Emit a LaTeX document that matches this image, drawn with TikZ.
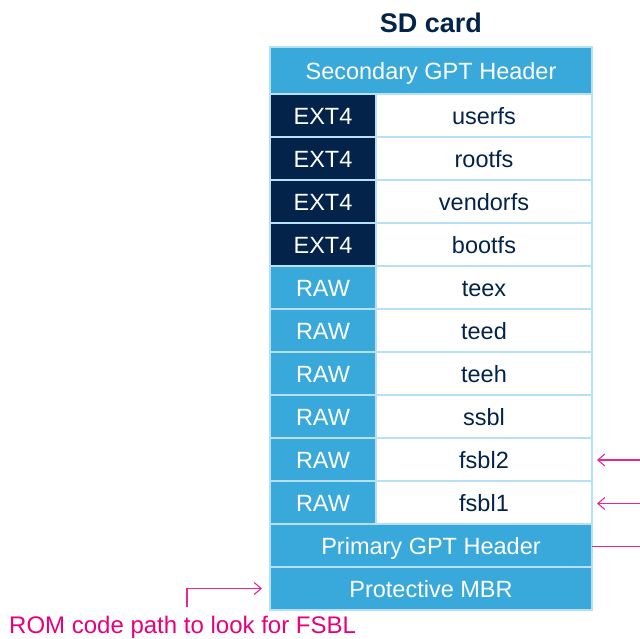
\documentclass[tikz,border=0pt]{standalone}
\usepackage{fontspec}
\setmainfont{Liberation Sans}
\usetikzlibrary{arrows.meta}
\definecolor{stblue}{HTML}{39A9DC}
\definecolor{stnavy}{HTML}{03234B}
\definecolor{stpink}{HTML}{E6007E}
\definecolor{sepcol}{HTML}{B8E0F4}
\tikzset{
  cell/.style={draw=sepcol, line width=1.5pt, inner sep=0pt, outer sep=0pt,
    minimum height=43pt, text height=17.5pt, text depth=0pt,
    font=\fontsize{23.5}{27}\selectfont},
  typecol/.style={cell, minimum width=106pt},
  namecol/.style={cell, minimum width=216pt, fill=white, text=stnavy},
  fullrow/.style={cell, minimum width=322pt, fill=stblue, text=white},
  ext/.style={typecol, fill=stnavy, text=white},
  raw/.style={typecol, fill=stblue, text=white},
  parrow/.style={draw=stpink!85, line width=1.1pt, -{Straight Barb[length=7pt,width=12pt]}},
  pline/.style={draw=stpink!85, line width=1.1pt},
}
\begin{document}
\begin{tikzpicture}[x=1pt,y=-1pt]
\useasboundingbox (0,0) rectangle (640,639);
\node[font=\fontsize{27}{31}\selectfont\bfseries, text=stnavy] (title) at (431,23) {SD card};
\node[fullrow, minimum height=47pt] (sec) at (431,70.5) {Secondary GPT Header};
\node[ext] (t1) at (323,115.5) {EXT4};
\node[namecol] (n1) at (484,115.5) {userfs};
\node[ext] (t2) at (323,158.5) {EXT4};
\node[namecol] (n2) at (484,158.5) {rootfs};
\node[ext] (t3) at (323,201.5) {EXT4};
\node[namecol] (n3) at (484,201.5) {vendorfs};
\node[ext] (t4) at (323,244.5) {EXT4};
\node[namecol] (n4) at (484,244.5) {bootfs};
\node[raw] (t5) at (323,287.5) {RAW};
\node[namecol] (n5) at (484,287.5) {teex};
\node[raw] (t6) at (323,330.5) {RAW};
\node[namecol] (n6) at (484,330.5) {teed};
\node[raw] (t7) at (323,373.5) {RAW};
\node[namecol] (n7) at (484,373.5) {teeh};
\node[raw] (t8) at (323,416.5) {RAW};
\node[namecol] (n8) at (484,416.5) {ssbl};
\node[raw] (t9) at (323,459.5) {RAW};
\node[namecol] (n9) at (484,459.5) {fsbl2};
\node[raw] (t10) at (323,502.5) {RAW};
\node[namecol] (n10) at (484,502.5) {fsbl1};
\node[fullrow] (pri) at (431,545.5) {Primary GPT Header};
\node[fullrow] (mbr) at (431,588.5) {Protective MBR};
% arrows from the right
\coordinate (r9) at (641,460);
\coordinate (r10) at (641,503.5);
\coordinate (rp) at (641,546.5);
\draw[parrow, shorten >=5pt] (r9) -- (n9.east |- r9);
\draw[parrow, shorten >=5pt] (r10) -- (n10.east |- r10);
\draw[pline] (rp) -- (pri.east |- rp);
% ROM code path
\node[anchor=west, text=stpink, font=\fontsize{24}{28}\selectfont, inner sep=0pt] (rom) at (9,627) {ROM code path to look for FSBL};
\coordinate (hook) at (187,607);
\draw[parrow, shorten >=8pt] (hook) |- (mbr.west);
\end{tikzpicture}
\end{document}
